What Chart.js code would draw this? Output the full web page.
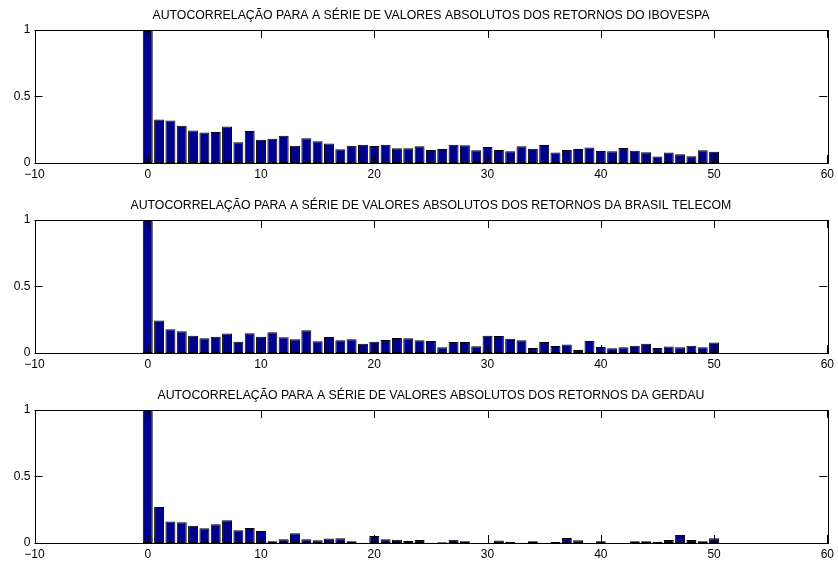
<!DOCTYPE html>
<html lang="pt">

<head>
    <meta charset="UTF-8">
    <title>Autocorrelação dos retornos absolutos</title>
    <style>
        html, body {
            margin: 0;
            padding: 0;
            background: #fff;
        }

        #charts {
            position: relative;
            width: 838px;
            height: 568px;
        }

        .panel {
            position: absolute;
            left: 0;
            width: 838px;
        }
    </style>
</head>

<body>
    <div id="charts">
        <div class="panel" style="top:0;height:190px"><canvas id="c0"></canvas></div>
        <div class="panel" style="top:190px;height:190px"><canvas id="c1"></canvas></div>
        <div class="panel" style="top:380px;height:188px"><canvas id="c2"></canvas></div>
    </div>

    <script src="https://cdn.jsdelivr.net/npm/chart.js"></script>
    <script>
        // lags 0..50
        const lags = Array.from({ length: 51 }, (_, i) => i);

        const titles = [
            'AUTOCORRELAÇÃO PARA A SÉRIE DE VALORES ABSOLUTOS DOS RETORNOS DO IBOVESPA',
            'AUTOCORRELAÇÃO PARA A SÉRIE DE VALORES ABSOLUTOS DOS RETORNOS DA BRASIL TELECOM',
            'AUTOCORRELAÇÃO PARA A SÉRIE DE VALORES ABSOLUTOS DOS RETORNOS DA GERDAU'
        ];

        const ibovespa = [
            1, 0.327, 0.320, 0.280, 0.245, 0.230, 0.233, 0.275, 0.156, 0.240,
            0.175, 0.183, 0.204, 0.130, 0.186, 0.163, 0.146, 0.103, 0.130, 0.138,
            0.128, 0.138, 0.110, 0.110, 0.126, 0.098, 0.106, 0.138, 0.133, 0.095,
            0.120, 0.098, 0.088, 0.126, 0.108, 0.136, 0.078, 0.098, 0.106, 0.116,
            0.090, 0.088, 0.113, 0.093, 0.080, 0.048, 0.078, 0.065, 0.050, 0.095,
            0.085
        ];

        const brasilTelecom = [
            1, 0.244, 0.178, 0.163, 0.130, 0.110, 0.123, 0.146, 0.085, 0.148,
            0.123, 0.156, 0.118, 0.103, 0.171, 0.088, 0.120, 0.095, 0.103, 0.070,
            0.085, 0.098, 0.113, 0.110, 0.095, 0.090, 0.043, 0.083, 0.083, 0.050,
            0.130, 0.128, 0.108, 0.095, 0.038, 0.083, 0.053, 0.063, 0.023, 0.090,
            0.045, 0.035, 0.043, 0.055, 0.070, 0.038, 0.048, 0.043, 0.055, 0.043,
            0.078
        ];

        const gerdau = [
            1, 0.271, 0.161, 0.156, 0.130, 0.110, 0.141, 0.171, 0.095, 0.113,
            0.090, 0.013, 0.028, 0.073, 0.028, 0.020, 0.033, 0.035, 0.013, 0.001,
            0.053, 0.028, 0.025, 0.015, 0.023, 0.001, 0.005, 0.025, 0.013, 0.000,
            0.000, 0.018, 0.010, 0.002, 0.013, 0.002, 0.008, 0.038, 0.020, 0.000,
            0.013, 0.000, 0.000, 0.013, 0.013, 0.010, 0.023, 0.060, 0.023, 0.013,
            0.035
        ];

        const series = [ibovespa, brasilTelecom, gerdau];

        const xTicks = [-10, 0, 10, 20, 30, 40, 50, 60];
        const yTicks = [0, 0.5, 1];

        const font = { family: '"Liberation Sans", Arial, Helvetica, sans-serif', size: 12 };

        // MATLAB-style box with inward tick marks
        const boxTicks = {
            id: 'boxTicks',
            afterDraw(chart) {
                const { ctx, chartArea: a, scales } = chart;
                const len = 8;
                ctx.save();
                ctx.strokeStyle = '#000';
                ctx.lineWidth = 1;
                ctx.beginPath();
                xTicks.forEach(v => {
                    const px = Math.round(scales.x.getPixelForValue(v)) + 0.5;
                    ctx.moveTo(px, a.bottom);
                    ctx.lineTo(px, a.bottom - len);
                    ctx.moveTo(px, a.top);
                    ctx.lineTo(px, a.top + len);
                });
                yTicks.forEach(v => {
                    const py = Math.round(scales.y.getPixelForValue(v)) + 0.5;
                    ctx.moveTo(a.left, py);
                    ctx.lineTo(a.left + len, py);
                    ctx.moveTo(a.right, py);
                    ctx.lineTo(a.right - len, py);
                });
                ctx.stroke();
                ctx.strokeRect(Math.round(a.left) + 0.5, Math.round(a.top) + 0.5,
                    Math.round(a.right - a.left), Math.round(a.bottom - a.top));
                ctx.restore();
            }
        };

        series.forEach((values, k) => {
            const canvas = document.getElementById('c' + k);
            const panelHeight = k === 2 ? 188 : 190;
            new Chart(canvas, {
                type: 'bar',
                data: {
                    datasets: [{
                        data: values.map((v, i) => ({ x: lags[i], y: v })),
                        backgroundColor: 'rgb(0, 0, 143)',
                        borderColor: '#000',
                        borderWidth: 1,
                        borderSkipped: false,
                        barPercentage: 0.88,
                        categoryPercentage: 1.0
                    }]
                },
                options: {
                    responsive: true,
                    maintainAspectRatio: false,
                    animation: false,
                    layout: {
                        padding: { left: 0, right: 10, top: 0, bottom: 0 }
                    },
                    plugins: {
                        legend: { display: false },
                        tooltip: { enabled: false },
                        title: {
                            display: true,
                            fullSize: false, // center over the plot box, like MATLAB
                            text: titles[k],
                            color: '#000',
                            font: { family: font.family, size: 12.3, weight: 'normal' },
                            padding: { top: 8.6, bottom: 6.6 }
                        }
                    },
                    scales: {
                        x: {
                            type: 'linear',
                            min: -10,
                            max: 60,
                            offset: false,
                            grid: { display: false, drawTicks: false, offset: false },
                            border: { display: false },
                            afterBuildTicks: s => { s.ticks = xTicks.map(v => ({ value: v })); },
                            afterFit: s => { s.height = panelHeight - 163; },
                            ticks: {
                                color: '#000',
                                font: font,
                                padding: 4,
                                maxRotation: 0,
                                autoSkip: false,
                                callback: v => String(v).replace('-', '\u2212')
                            }
                        },
                        y: {
                            min: 0,
                            max: 1,
                            grid: { display: false, drawTicks: false },
                            border: { display: false },
                            afterBuildTicks: s => { s.ticks = yTicks.map(v => ({ value: v })); },
                            afterFit: s => { s.width = 34.5; },
                            ticks: {
                                color: '#000',
                                font: font,
                                padding: 4,
                                callback: v => String(v)
                            }
                        }
                    }
                },
                plugins: [boxTicks]
            });
        });
    </script>
</body>

</html>
